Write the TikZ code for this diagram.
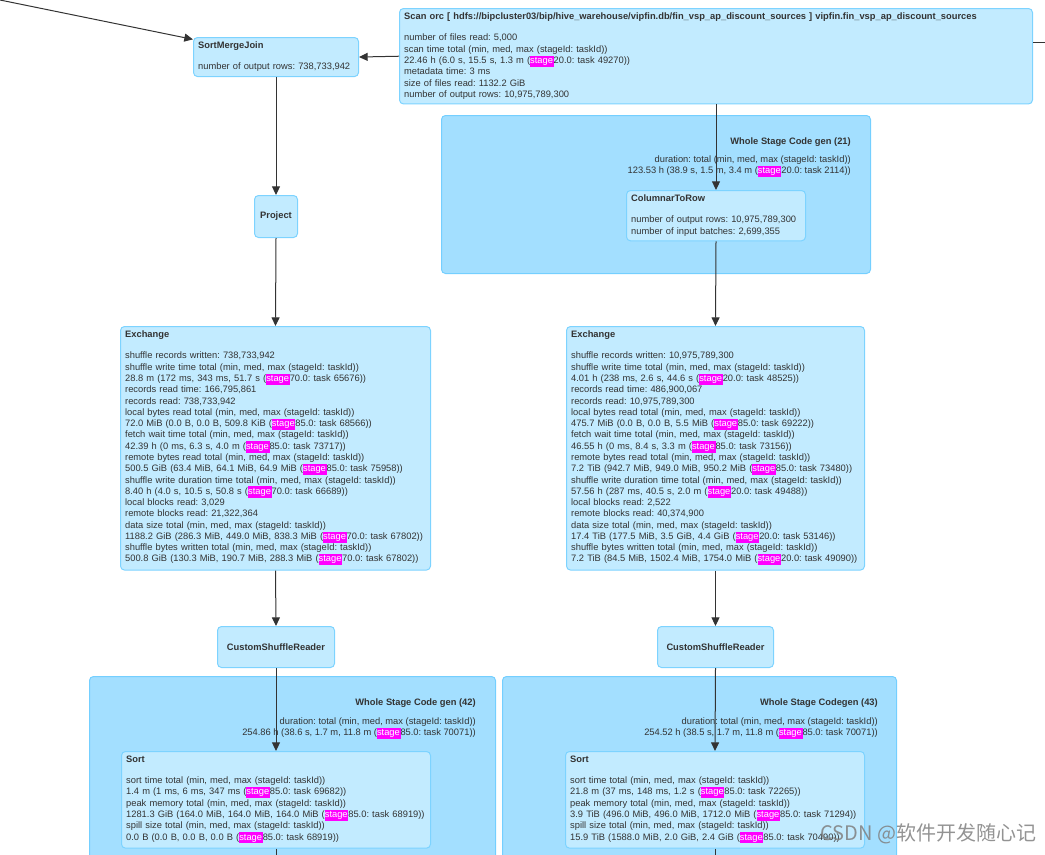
\documentclass[tikz,border=0pt]{standalone}
\usepackage{fontspec}
\setmainfont{Liberation Sans}
\newfontfamily\cjkfont{Noto Sans CJK SC}
\usetikzlibrary{arrows.meta,positioning}

\definecolor{opfill}{HTML}{C2EBFF}
\definecolor{opline}{HTML}{7DD3FF}
\definecolor{clfill}{HTML}{A3DFFF}
\definecolor{clline}{HTML}{74CFFF}
\definecolor{txt}{HTML}{333333}
\definecolor{edge}{HTML}{333333}
\definecolor{stagebg}{RGB}{255,0,255}

\newcommand{\stg}{{\setlength{\fboxsep}{0pt}\colorbox{stagebg}{\strut\textcolor{white}{stage\hspace{0.5pt}}}}}
\newcommand{\mmm}{(min, med, max (stageId: taskId))}

\tikzset{
	every node/.style={font=\fontsize{7.0}{8.46}\selectfont\frenchspacing, text=txt},
	opbox/.style={draw=opline, fill=opfill, rounded corners=3pt, line width=0.75pt, align=left, anchor=north west, inner xsep=3.5pt, inner ysep=3.5pt},
	smallop/.style={draw=opline, fill=opfill, rounded corners=3pt, line width=0.75pt, anchor=north west, inner sep=0pt, font=\fontsize{7.0}{8.46}\selectfont\bfseries},
	cluster/.style={draw=clline, fill=clfill, rounded corners=3pt, line width=0.75pt, anchor=north west, inner sep=0pt},
	cllabel/.style={align=right, inner sep=0pt},
	flow/.style={draw=edge, line width=0.75pt, -{Triangle[length=6.5pt,width=6pt]}},
	plain/.style={draw=edge, line width=0.75pt}
}

\begin{document}
\begin{tikzpicture}[x=0.75pt, y=-0.75pt]
			\useasboundingbox (0,0) rectangle (1045,854);

			\node (wscg21)[cluster, minimum width=321.75pt, minimum height=118.5pt] at (441,115) {};
			\node (wscg42)[cluster, minimum width=304.5pt, minimum height=150pt] at (89,676) {};
			\node (wscg43)[cluster, minimum width=295.5pt, minimum height=150pt] at (502,676) {};

			\node (lab21)[cllabel, below left=16.5pt and 15pt of wscg21.north east] {\textbf{Whole Stage Code gen (21)}\\[5.5pt]duration: total \mmm\\123.53 h (38.9 s, 1.5 m, 3.4 m (\stg 20.0: task 2114))};
			\node (lab42)[cllabel, below left=17pt and 15pt of wscg42.north east] {\textbf{Whole Stage Code gen (42)}\\[5.5pt]duration: total \mmm\\254.86 h (38.6 s, 1.7 m, 11.8 m (\stg 85.0: task 70071))};
			\node (lab43)[cllabel, below left=17pt and 14.25pt of wscg43.north east] {\textbf{Whole Stage Codegen (43)}\\[5.5pt]duration: total \mmm\\254.52 h (38.5 s, 1.7 m, 11.8 m (\stg 85.0: task 70071))};

			\node (scan)[opbox, text width=467.75pt] at (399,8) {\textbf{Scan orc [ hdfs://bipcluster03/bip/hive\_warehouse/vipfin.db/fin\_vsp\_ap\_discount\_sources ] vipfin.fin\_vsp\_ap\_discount\_sources}\\[7.3pt]
				number of files read: 5,000\\
				scan time total \mmm\\
				22.46 h (6.0 s, 15.5 s, 1.3 m (\stg 20.0: task 49270))\\
				metadata time: 3 ms\\
				size of files read: 1132.2 GiB\\
				number of output rows: 10,975,789,300};
			\node (smj)[opbox, text width=116.75pt] at (193,37) {\textbf{SortMergeJoin}\\[7.3pt]number of output rows: 738,733,942};
			\node (c2r)[opbox, text width=127.25pt] at (626,190) {\textbf{ColumnarToRow}\\[7.3pt]number of output rows: 10,975,789,300\\number of input batches: 2,699,355};
			\node (project)[smallop, minimum width=32.25pt, minimum height=31.5pt] at (254,195) {Project};

			\node (exL)[opbox, text width=225.5pt] at (120,326) {\textbf{Exchange}\\[7.3pt]
				shuffle records written: 738,733,942\\
				shuffle write time total \mmm\\
				28.8 m (172 ms, 343 ms, 51.7 s (\stg 70.0: task 65676))\\
				records read time: 166,795,861\\
				records read: 738,733,942\\
				local bytes read total \mmm\\
				72.0 MiB (0.0 B, 0.0 B, 509.8 KiB (\stg 85.0: task 68566))\\
				fetch wait time total \mmm\\
				42.39 h (0 ms, 6.3 s, 4.0 m (\stg 85.0: task 73717))\\
				remote bytes read total \mmm\\
				500.5 GiB (63.4 MiB, 64.1 MiB, 64.9 MiB (\stg 85.0: task 75958))\\
				shuffle write duration time total \mmm\\
				8.40 h (4.0 s, 10.5 s, 50.8 s (\stg 70.0: task 66689))\\
				local blocks read: 3,029\\
				remote blocks read: 21,322,364\\
				data size total \mmm\\
				1188.2 GiB (286.3 MiB, 449.0 MiB, 838.3 MiB (\stg 70.0: task 67802))\\
				shuffle bytes written total \mmm\\
				500.8 GiB (130.3 MiB, 190.7 MiB, 288.3 MiB (\stg 70.0: task 67802))};
			\node (exR)[opbox, text width=216.5pt] at (566,326) {\textbf{Exchange}\\[7.3pt]
				shuffle records written: 10,975,789,300\\
				shuffle write time total \mmm\\
				4.01 h (238 ms, 2.6 s, 44.6 s (\stg 20.0: task 48525))\\
				records read time: 486,900,067\\
				records read: 10,975,789,300\\
				local bytes read total \mmm\\
				475.7 MiB (0.0 B, 0.0 B, 5.5 MiB (\stg 85.0: task 69222))\\
				fetch wait time total \mmm\\
				46.55 h (0 ms, 8.4 s, 3.3 m (\stg 85.0: task 73156))\\
				remote bytes read total \mmm\\
				7.2 TiB (942.7 MiB, 949.0 MiB, 950.2 MiB (\stg 85.0: task 73480))\\
				shuffle write duration time total \mmm\\
				57.56 h (287 ms, 40.5 s, 2.0 m (\stg 20.0: task 49488))\\
				local blocks read: 2,522\\
				remote blocks read: 40,374,900\\
				data size total \mmm\\
				17.4 TiB (177.5 MiB, 3.5 GiB, 4.4 GiB (\stg 20.0: task 53146))\\
				shuffle bytes written total \mmm\\
				7.2 TiB (84.5 MiB, 1502.4 MiB, 1754.0 MiB (\stg 20.0: task 49090))};

			\node (csrL)[smallop, minimum width=87.75pt, minimum height=30.75pt] at (217,626) {CustomShuffleReader};
			\node (csrR)[smallop, minimum width=87pt, minimum height=30.75pt] at (657,626) {CustomShuffleReader};

			\node (sortL)[opbox, text width=224.75pt] at (121,751) {\textbf{Sort}\\[7.3pt]
				sort time total \mmm\\
				1.4 m (1 ms, 6 ms, 347 ms (\stg 85.0: task 69682))\\
				peak memory total \mmm\\
				1281.3 GiB (164.0 MiB, 164.0 MiB, 164.0 MiB (\stg 85.0: task 68919))\\
				spill size total \mmm\\
				0.0 B (0.0 B, 0.0 B, 0.0 B (\stg 85.0: task 68919))};
			\node (sortR)[opbox, text width=217.25pt] at (565,751) {\textbf{Sort}\\[7.3pt]
				sort time total \mmm\\
				21.8 m (37 ms, 148 ms, 1.2 s (\stg 85.0: task 72265))\\
				peak memory total \mmm\\
				3.9 TiB (496.0 MiB, 496.0 MiB, 1712.0 MiB (\stg 85.0: task 71294))\\
				spill size total \mmm\\
				15.9 TiB (1588.0 MiB, 2.0 GiB, 2.4 GiB (\stg 85.0: task 70490))};

			\coordinate (src) at (0,0);
			\coordinate (away) at (1050,42);
			\coordinate (endL) at (0,860);
			\coordinate (endR) at (0,860);

			\draw[flow] (src) -- (smj.168);
			\draw[flow] (scan.west) -- (smj.east);
			\draw[plain] (scan.east |- away) -- (away);
			\draw[flow] (scan.south) -- (c2r.north);
			\draw[flow] (c2r.south) -- (exR.north);
			\draw[flow] (smj.south) -- (project.north);
			\draw[flow] (project.south) -- (exL.north);
			\draw[flow] (exL.south) -- (csrL.north);
			\draw[flow] (exR.south) -- (csrR.north);
			\draw[flow] (csrL.south) -- (sortL.north);
			\draw[flow] (csrR.south) -- (sortR.north);
			\draw[plain] (sortL.south) -- (sortL.south |- endL);
			\draw[plain] (sortR.south) -- (sortR.south |- endR);

			\node (mark)[font=\cjkfont\fontsize{15}{15}\selectfont, text=black!50, opacity=0.85, anchor=west] at (816,834) {CSDN @软件开发随心记};
		\end{tikzpicture}
\end{document}
